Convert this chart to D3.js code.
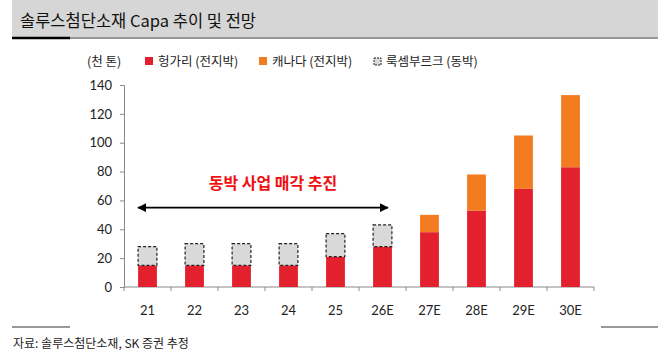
<!DOCTYPE html>
<html>
<head>
<meta charset="utf-8">
<script src="https://cdn.jsdelivr.net/npm/d3@7"></script>
<style>
  body { margin: 0; background: #fff; }
  svg { display: block; font-family: "Noto Sans CJK KR", sans-serif; }
</style>
</head>
<body>
<div id="chart"></div>
<script>
// data
const categories = ["21", "22", "23", "24", "25", "26E", "27E", "28E", "29E", "30E"];
const hungary = [15, 15, 15, 15, 21, 28, 38, 53, 68, 83];          // 헝가리 (전지박)
const canada = [0, 0, 0, 0, 0, 0, 12, 25, 37, 50];                 // 캐나다 (전지박)
const luxembourg = [13, 15, 15, 15, 16, 15, 0, 0, 0, 0];           // 룩셈부르크 (동박)
const yTicks = [0, 20, 40, 60, 80, 100, 120, 140];

const W = 658, H = 354;
const red = "#e3202d", orange = "#f37b20", grey = "#d9d9d9";

const svg = d3.select("#chart")
    .append("svg")
    .attr("width", W)
    .attr("height", H);

// title bar
svg.append("rect").attr("x", 12).attr("y", 0).attr("width", W - 12).attr("height", 37).attr("fill", "#d6d6d6");
svg.append("line").attr("x1", 70).attr("x2", W).attr("y1", 38).attr("y2", 38).attr("stroke", "#333").attr("stroke-width", 1);
svg.append("line").attr("x1", 12).attr("x2", 70).attr("y1", 38).attr("y2", 38).attr("stroke", "#000").attr("stroke-width", 2.5);
svg.append("text").attr("x", 20).attr("y", 27)
    .attr("font-size", 16.5).attr("fill", "#111")
    .text("솔루스첨단소재 Capa 추이 및 전망");

// scales
const x = d3.scaleBand()
    .domain(categories)
    .range([124, 594])
    .paddingInner(0.6)
    .paddingOuter(0.3);

const y = d3.scaleLinear()
    .domain([0, 140])
    .range([287, 85]);

// y axis
const yAxis = svg.append("g")
    .attr("transform", "translate(124,0)")
    .call(d3.axisLeft(y).tickValues(yTicks).tickSize(4).tickPadding(8));
yAxis.select(".domain").attr("stroke", "#8a8a8a");
yAxis.selectAll(".tick line").attr("stroke", "#8a8a8a");
yAxis.selectAll("text").attr("font-size", 13).attr("fill", "#222").attr("font-family", "Lato, sans-serif");

// x axis
svg.append("line").attr("x1", 124).attr("x2", 594).attr("y1", y(0)).attr("y2", y(0)).attr("stroke", "#8a8a8a");
const step = x.step();
svg.selectAll(".xtick")
    .data(d3.range(categories.length + 1))
    .join("line")
    .attr("x1", i => 124 + i * step).attr("x2", i => 124 + i * step)
    .attr("y1", y(0)).attr("y2", y(0) + 4)
    .attr("stroke", "#8a8a8a");
svg.selectAll(".xlabel")
    .data(categories)
    .join("text")
    .attr("x", d => x(d) + x.bandwidth() / 2)
    .attr("y", 315)
    .attr("text-anchor", "middle")
    .attr("font-size", 13)
    .attr("fill", "#222")
    .attr("font-family", "Lato, sans-serif")
    .text(d => d);

// bars
const rows = categories.map((c, i) => ({c, h: hungary[i], ca: canada[i], lu: luxembourg[i]}));

svg.selectAll(".bar-h")
    .data(rows)
    .join("rect")
    .attr("x", d => x(d.c))
    .attr("width", x.bandwidth())
    .attr("y", d => y(d.h))
    .attr("height", d => y(0) - y(d.h))
    .attr("fill", red);

svg.selectAll(".bar-c")
    .data(rows.filter(d => d.ca > 0))
    .join("rect")
    .attr("x", d => x(d.c))
    .attr("width", x.bandwidth())
    .attr("y", d => y(d.h + d.ca))
    .attr("height", d => y(d.h) - y(d.h + d.ca))
    .attr("fill", orange);

svg.selectAll(".bar-l")
    .data(rows.filter(d => d.lu > 0))
    .join("rect")
    .attr("x", d => x(d.c))
    .attr("width", x.bandwidth())
    .attr("y", d => y(d.h + d.lu))
    .attr("height", d => y(d.h) - y(d.h + d.lu))
    .attr("fill", grey)
    .attr("stroke", "#222")
    .attr("stroke-width", 1.2)
    .attr("stroke-dasharray", "3,2");

// arrow annotation
const defs = svg.append("defs");
defs.append("marker").attr("id", "ah").attr("viewBox", "0 0 10 10")
    .attr("refX", 9).attr("refY", 5).attr("markerWidth", 9).attr("markerHeight", 9)
    .attr("markerUnits", "userSpaceOnUse")
    .attr("orient", "auto-start-reverse")
    .append("path").attr("d", "M0,0 L10,5 L0,10 Z").attr("fill", "#000");
const ay = y(55);
svg.append("line")
    .attr("x1", x("21")).attr("x2", x("26E") + x.bandwidth() - 4)
    .attr("y1", ay).attr("y2", ay)
    .attr("stroke", "#000").attr("stroke-width", 1.6)
    .attr("marker-start", "url(#ah)").attr("marker-end", "url(#ah)");
svg.append("text")
    .attr("x", 273).attr("y", y(68))
    .attr("text-anchor", "middle")
    .attr("font-size", 16).attr("font-weight", "bold")
    .attr("fill", "#f01010")
    .text("동박 사업 매각 추진");

// legend
const lg = svg.append("g").attr("font-size", 12.5).attr("fill", "#222");
lg.append("text").attr("x", 87).attr("y", 66).text("(천 톤)");
lg.append("rect").attr("x", 145).attr("y", 57).attr("width", 8).attr("height", 8).attr("fill", red);
lg.append("text").attr("x", 158).attr("y", 66).text("헝가리 (전지박)");
lg.append("rect").attr("x", 259).attr("y", 57).attr("width", 8).attr("height", 8).attr("fill", orange);
lg.append("text").attr("x", 272).attr("y", 66).text("캐나다 (전지박)");
lg.append("rect").attr("x", 374).attr("y", 58).attr("width", 7).attr("height", 7)
    .attr("fill", grey).attr("stroke", "#222").attr("stroke-width", 1).attr("stroke-dasharray", "2,1");
lg.append("text").attr("x", 386).attr("y", 66).text("룩셈부르크 (동박)");

// footer
svg.append("line").attr("x1", 12).attr("x2", 70).attr("y1", 327).attr("y2", 327).attr("stroke", "#333");
svg.append("line").attr("x1", 601).attr("x2", W).attr("y1", 327).attr("y2", 327).attr("stroke", "#333");
svg.append("text").attr("x", 13).attr("y", 348)
    .attr("font-size", 12).attr("fill", "#222")
    .text("자료: 솔루스첨단소재, SK 증권 추정");
</script>
</body>
</html>
